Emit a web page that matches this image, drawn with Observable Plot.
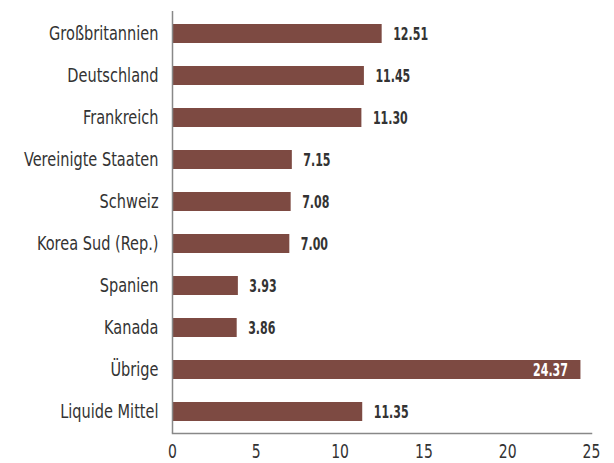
<!DOCTYPE html>
<html><head><meta charset="utf-8">
<script src="https://cdn.jsdelivr.net/npm/d3@7"></script>
<script src="https://cdn.jsdelivr.net/npm/@observablehq/plot@0.6"></script>
<style>
body{margin:0;background:#fff;}
svg{font-family:"DejaVu Sans Condensed","Liberation Sans Narrow",sans-serif;overflow:visible;}
</style></head>
<body><div id="chart"></div>
<script>
const categories = ["Großbritannien","Deutschland","Frankreich","Vereinigte Staaten","Schweiz","Korea Sud (Rep.)","Spanien","Kanada","Übrige","Liquide Mittel"];
const values = [12.51,11.45,11.30,7.15,7.08,7.00,3.93,3.86,24.37,11.35];
const xTicks = [0,5,10,15,20,25];
const insideLabels = ["Übrige"];

const data = categories.map((c,i)=>({cat:c, v:values[i], inside: insideLabels.includes(c)}));
const color = "#7d4a42";

const chart = Plot.plot({
  width: 614, height: 463,
  marginLeft: 172, marginRight: 23, marginTop: 11, marginBottom: 30,
  style: {fontFamily: '"DejaVu Sans Condensed","Liberation Sans Narrow",sans-serif', background: "#fff"},
  x: {domain: [0,25], ticks: xTicks, label: null},
  y: {domain: categories, paddingInner: 0.55, paddingOuter: 0.275, label: null},
  marks: [
    Plot.barX(data, {x: "v", y: "cat", fill: color}),
    Plot.text(data.filter(d=>!d.inside), {x: "v", y: "cat", text: d=>d.v.toFixed(2), textAnchor: "start", dx: 11, fontSize: 17.5, fontWeight: "bold", fill: "#333", className: "val"}),
    Plot.text(data.filter(d=>d.inside), {x: "v", y: "cat", text: d=>d.v.toFixed(2), textAnchor: "end", dx: -13, fontSize: 17.5, fontWeight: "bold", fill: "#fff", className: "val"}),
    Plot.axisX({ticks: xTicks, tickSize: 0, tickPadding: 11, fontSize: 19, fill: "#333", label: null}),
    Plot.axisY({tickSize: 0, tickPadding: 14, fontSize: 19, fill: "#333", label: null}),
    Plot.ruleX([0], {stroke: "#888", strokeWidth: 1.5}),
    Plot.frame({anchor: "bottom", stroke: "#888", strokeWidth: 1.5})
  ]
});
document.getElementById("chart").appendChild(chart);

// condense glyphs horizontally to mimic the narrow typeface
function condense(selector, factor) {
  chart.querySelectorAll(selector).forEach(t => {
    const len = t.getComputedTextLength();
    if (len > 0) {
      t.setAttribute("textLength", (len * factor).toFixed(1));
      t.setAttribute("lengthAdjust", "spacingAndGlyphs");
    }
  });
}
condense('g[aria-label="y-axis tick label"] text', 0.85);
condense('g[aria-label="x-axis tick label"] text', 0.82);
condense('.val text', 0.7);
</script></body></html>
